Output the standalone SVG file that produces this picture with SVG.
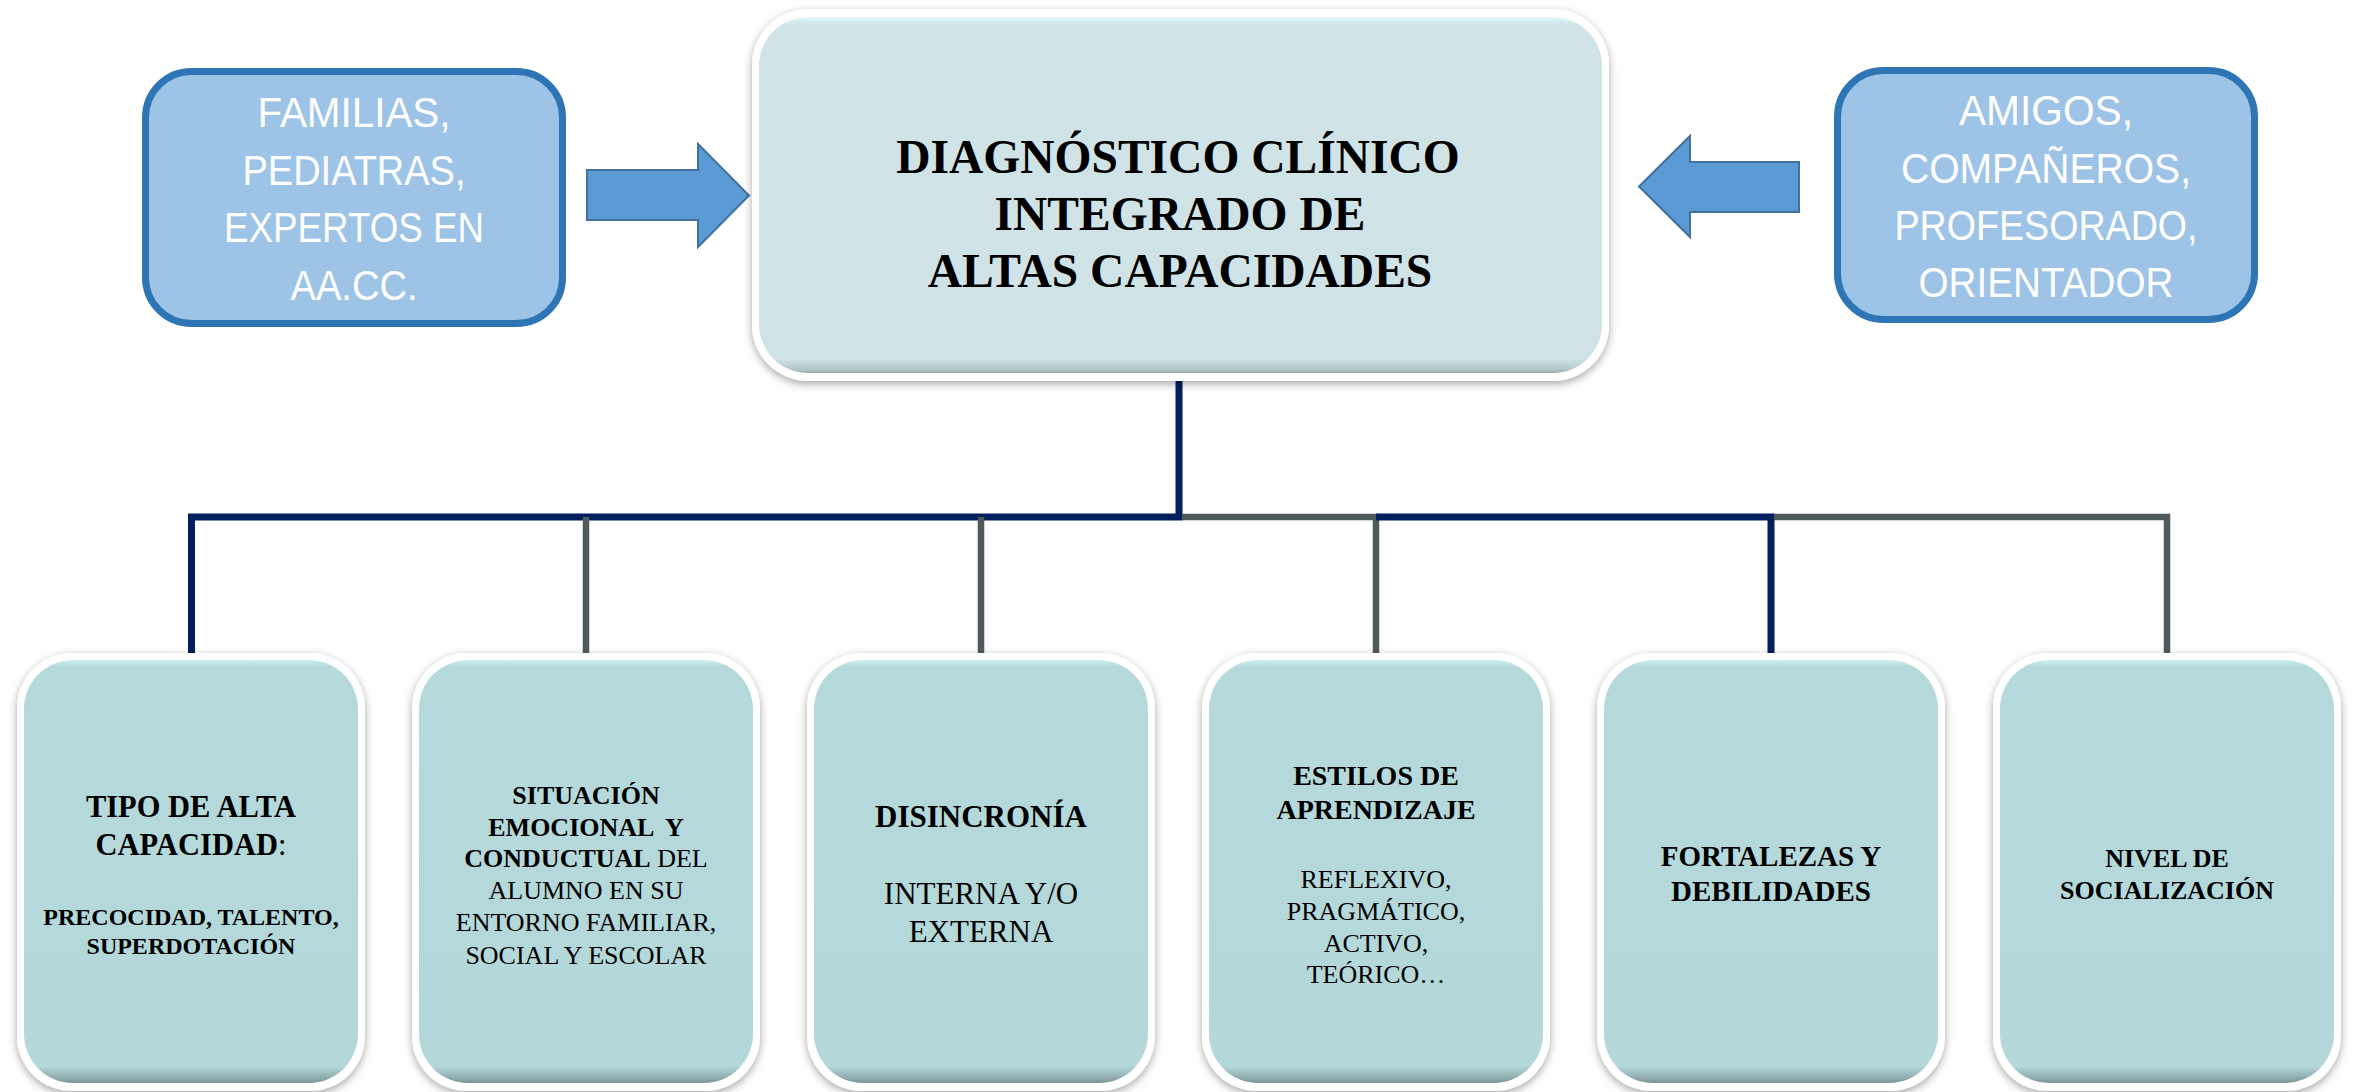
<svg xmlns="http://www.w3.org/2000/svg" width="2359" height="1092" viewBox="0 0 2359 1092">
<style>
.bluebox{fill:#9DC3E6;stroke:#2E75B6;stroke-width:7}
.bt{font-family:"Liberation Sans",Arial,sans-serif;font-size:42px;fill:#FFFFFF;text-anchor:middle}
.arrow{fill:#5B9BD5;stroke:#41719C;stroke-width:2}
.outer{fill:#FFFFFF;filter:url(#sh)}
.inmain{fill:url(#gmain)}
.inbox{fill:url(#gbox)}
.t{font-family:"Liberation Serif","Times New Roman",serif;fill:#000;text-anchor:middle}
.b{font-weight:bold}
.navy{fill:none;stroke:#031F5E;stroke-width:7;stroke-linejoin:miter}
.gray{fill:none;stroke:#4E5A5E;stroke-width:6.5;stroke-linejoin:miter}
</style>
<defs>
<filter id="sh" x="-10%" y="-10%" width="120%" height="125%">
<feDropShadow dx="0" dy="3" stdDeviation="4" flood-color="#000" flood-opacity="0.35"/>
</filter>
<linearGradient id="gmain" x1="0" y1="0" x2="0" y2="1">
<stop offset="0" stop-color="#E3FAFD"/>
<stop offset="0.02" stop-color="#D0E4E8"/>
<stop offset="0.96" stop-color="#CFE3E7"/>
<stop offset="0.99" stop-color="#B3C6C9"/>
<stop offset="1" stop-color="#98AAAD"/>
</linearGradient>
<linearGradient id="gbox" x1="0" y1="0" x2="0" y2="1">
<stop offset="0" stop-color="#CBF1F4"/>
<stop offset="0.015" stop-color="#B6DADC"/>
<stop offset="0.96" stop-color="#B4D8DA"/>
<stop offset="0.985" stop-color="#93B0B2"/>
<stop offset="1" stop-color="#7D9597"/>
</linearGradient>
</defs>

<g id="connectors">
<path class="navy" d="M191.5 653 V517 H1179 V381"/>
<path class="gray" d="M586 517 V653"/>
<path class="gray" d="M981 517 V653"/>
<path class="gray" d="M1182 517 H1376 V653"/>
<path class="navy" d="M1376 517 H1771 V653"/>
<path class="gray" d="M1774 517 H2167 V653"/>
</g>

<g id="arrow-right">
<polygon class="arrow" points="587,170 698,170 698,144 749,195.5 698,247 698,220 587,220"/>
</g>
<g id="arrow-left">
<polygon class="arrow" points="1799,162 1690,162 1690,136 1639,186.5 1690,237 1690,212 1799,212"/>
</g>

<g id="familias">
<rect class="bluebox" x="145.5" y="71.5" width="417" height="252" rx="46" ry="46"/>
<text class="bt" x="354" y="127" textLength="193" lengthAdjust="spacingAndGlyphs">FAMILIAS,</text>
<text class="bt" x="354" y="185" textLength="223" lengthAdjust="spacingAndGlyphs">PEDIATRAS,</text>
<text class="bt" x="354" y="242" textLength="260" lengthAdjust="spacingAndGlyphs">EXPERTOS EN</text>
<text class="bt" x="354" y="300" textLength="127" lengthAdjust="spacingAndGlyphs">AA.CC.</text>
</g>

<g id="amigos">
<rect class="bluebox" x="1837.5" y="70.5" width="417" height="249" rx="46" ry="46"/>
<text class="bt" x="2046" y="125" textLength="174" lengthAdjust="spacingAndGlyphs">AMIGOS,</text>
<text class="bt" x="2046" y="183" textLength="290" lengthAdjust="spacingAndGlyphs">COMPAÑEROS,</text>
<text class="bt" x="2046" y="240" textLength="303" lengthAdjust="spacingAndGlyphs">PROFESORADO,</text>
<text class="bt" x="2046" y="297" textLength="255" lengthAdjust="spacingAndGlyphs">ORIENTADOR</text>
</g>

<g id="diagnostico">
<rect class="outer" x="752" y="9" width="857" height="372" rx="56" ry="56"/>
<rect class="inmain" x="759" y="17" width="843" height="356" rx="49" ry="49"/>
<text class="t b" x="1178" y="173" font-size="47.5">DIAGNÓSTICO CLÍNICO</text>
<text class="t b" x="1180" y="230" font-size="47.5">INTEGRADO DE</text>
<text class="t b" x="1180" y="287" font-size="47.5">ALTAS CAPACIDADES</text>
</g>

<g id="tipo">
<rect class="outer" x="17" y="653" width="348" height="438" rx="55" ry="55"/>
<rect class="inbox" x="24" y="660" width="334" height="423" rx="49" ry="49"/>
<text class="t b" x="191" y="817" font-size="30.5">TIPO DE ALTA</text>
<text class="t" x="191" y="855" font-size="30.5"><tspan class="b">CAPACIDAD</tspan>:</text>
<text class="t b" x="191" y="925" font-size="24">PRECOCIDAD, TALENTO,</text>
<text class="t b" x="191" y="954" font-size="24">SUPERDOTACIÓN</text>
</g>

<g id="situacion">
<rect class="outer" x="412" y="653" width="348" height="438" rx="55" ry="55"/>
<rect class="inbox" x="419" y="660" width="334" height="423" rx="49" ry="49"/>
<text class="t b" x="586" y="804" font-size="26">SITUACIÓN</text>
<text class="t b" x="586" y="836" font-size="26" xml:space="preserve">EMOCIONAL  Y</text>
<text class="t" x="586" y="867" font-size="26"><tspan class="b">CONDUCTUAL</tspan> DEL</text>
<text class="t" x="586" y="899" font-size="26">ALUMNO EN SU</text>
<text class="t" x="586" y="931" font-size="26">ENTORNO FAMILIAR,</text>
<text class="t" x="586" y="964" font-size="26">SOCIAL Y ESCOLAR</text>
</g>

<g id="disincronia">
<rect class="outer" x="807" y="653" width="348" height="438" rx="55" ry="55"/>
<rect class="inbox" x="814" y="660" width="334" height="423" rx="49" ry="49"/>
<text class="t b" x="981" y="827" font-size="31">DISINCRONÍA</text>
<text class="t" x="981" y="904" font-size="31">INTERNA Y/O</text>
<text class="t" x="981" y="942" font-size="31">EXTERNA</text>
</g>

<g id="estilos">
<rect class="outer" x="1202" y="653" width="348" height="438" rx="55" ry="55"/>
<rect class="inbox" x="1209" y="660" width="334" height="423" rx="49" ry="49"/>
<text class="t b" x="1376" y="785" font-size="28">ESTILOS DE</text>
<text class="t b" x="1376" y="819" font-size="28">APRENDIZAJE</text>
<text class="t" x="1376" y="888" font-size="26">REFLEXIVO,</text>
<text class="t" x="1376" y="920" font-size="26">PRAGMÁTICO,</text>
<text class="t" x="1376" y="952" font-size="26">ACTIVO,</text>
<text class="t" x="1376" y="983" font-size="26">TEÓRICO…</text>
</g>

<g id="fortalezas">
<rect class="outer" x="1597" y="653" width="348" height="438" rx="55" ry="55"/>
<rect class="inbox" x="1604" y="660" width="334" height="423" rx="49" ry="49"/>
<text class="t b" x="1771" y="866" font-size="29">FORTALEZAS Y</text>
<text class="t b" x="1771" y="901" font-size="29">DEBILIDADES</text>
</g>

<g id="socializacion">
<rect class="outer" x="1993" y="653" width="348" height="438" rx="55" ry="55"/>
<rect class="inbox" x="2000" y="660" width="334" height="423" rx="49" ry="49"/>
<text class="t b" x="2167" y="867" font-size="26">NIVEL DE</text>
<text class="t b" x="2167" y="899" font-size="26">SOCIALIZACIÓN</text>
</g>
</svg>
